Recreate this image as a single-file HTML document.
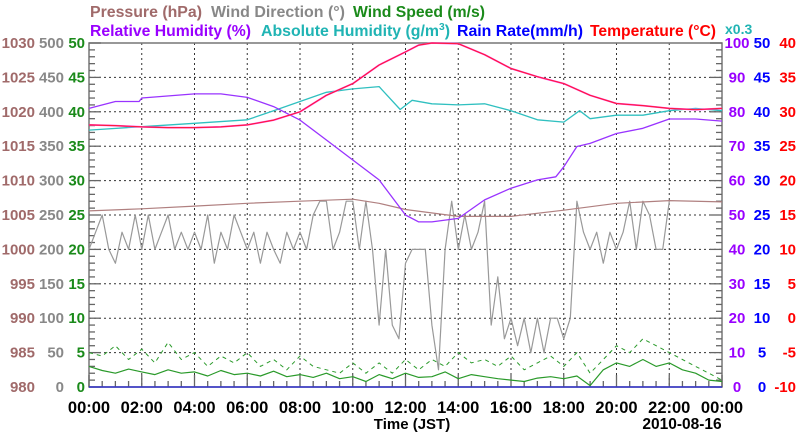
<!DOCTYPE html>
<html><head><meta charset="utf-8"><style>
html,body{margin:0;padding:0;background:#fff;}
svg{display:block;font-family:"Liberation Sans",sans-serif;font-weight:bold;}
</style></head><body>
<svg id="chart" width="800" height="434" viewBox="0 0 800 434" xmlns="http://www.w3.org/2000/svg">
<g font-size="15.5">
<text x="90" y="17" fill="#a06a6a" textLength="112" lengthAdjust="spacingAndGlyphs">Pressure (hPa)</text>
<text x="211" y="17" fill="#888" textLength="134" lengthAdjust="spacingAndGlyphs">Wind Direction (°)</text>
<text x="353" y="17" fill="#1a8a1a" textLength="132" lengthAdjust="spacingAndGlyphs">Wind Speed (m/s)</text>
<text x="90" y="36" fill="#9900ff" textLength="161" lengthAdjust="spacingAndGlyphs">Relative Humidity (%)</text>
<text x="261" y="36" fill="#20b4b4" textLength="189" lengthAdjust="spacingAndGlyphs">Absolute Humidity (g/m<tspan font-size="10" dy="-6">3</tspan><tspan dy="6">)</tspan></text>
<text x="457" y="36" fill="#0000ff" textLength="126" lengthAdjust="spacingAndGlyphs">Rain Rate(mm/h)</text>
<text x="590" y="36" fill="#ff0000" textLength="126" lengthAdjust="spacingAndGlyphs">Temperature (°C)</text>
<text x="725" y="34" fill="#20b4b4" font-size="14">x0.3</text>
</g>
<g id="grid"></g>
<g id="axes"></g>
<g id="series"></g>
<text x="412" y="429" font-size="15" text-anchor="middle">Time (JST)</text>
<text x="682" y="429" font-size="15.5" text-anchor="middle">2010-08-16</text>
</svg>
<script>
const hours=[0,1,2,3,4,5,6,7,8,9,10,11,12,12.5,13,14,15,16,17,18,19,20,21,22,23,24];
const temperature=[28.1,28.0,27.8,27.7,27.7,27.8,28.1,28.8,30.0,32.4,34.1,36.8,38.7,39.7,40,39.9,38.3,36.3,35.1,34.1,32.4,31.2,30.9,30.5,30.3,30.5];
const rhHours=[0,1,1.9,2,4,5,6,7,8,9,10,11,12,12.5,13,14,15,16,17,17.7,18,18.5,19,20,21,22,23,24];
const relHumidity=[81,83,83,84,85.2,85.2,84.2,81.5,77.6,71.8,66,60.2,50,48,48,49,54.4,57.8,60.2,61.1,64,69.9,70.8,73.7,75.2,77.9,77.9,77.3];
const ahHours=[0,2,4,6,7,8,9,10,11,11.8,12.25,13,14,15,16,17,18,18.6,19,20,21,22,23,24];
const absHumidity=[22.4,22.7,23.0,23.3,24.1,24.9,25.7,26.0,26.2,24.2,25.0,24.7,24.6,24.7,24.1,23.3,23.1,24.1,23.4,23.7,23.7,24.1,24.3,24.1];
const pHours=[0,2,4,6,8,10,11,12,14,16,18,20,22,24];
const pressure=[1005.6,1005.9,1006.3,1006.7,1007.0,1007.3,1006.7,1005.8,1004.8,1004.8,1005.7,1006.7,1007.1,1006.9];
const windDir=[200,225,250,200,180,225,200,250,200,250,200,225,250,200,225,200,225,200,250,180,225,200,250,225,200,225,180,225,200,180,225,200,225,200,250,270,270,200,225,270,270,200,270,200,90,200,90,70,180,200,200,200,90,25,200,270,200,250,200,225,270,90,160,70,100,60,100,50,100,50,100,100,70,100,270,225,200,225,180,225,200,225,270,200,270,250,200,200,270];
const windAvg=[3,2.4,2,2.6,2.2,1.8,2.5,2,2.2,1.6,2.4,1.8,2,1.6,2.3,1.5,1.8,1.4,2,1.2,1.5,0.8,1.8,1.2,2,1.4,1.5,2.2,1.2,1.8,1.5,1.2,1,0.8,1.3,1.5,1.2,1.6,0.2,2.5,3.5,3,4,3,3.5,2.5,2,1,0.8];
const windGust=[5,4.5,6,4,5.5,3.5,6.5,4,5,3,4.5,3.5,5,3,4,2.5,4.5,3,2.5,2,3.5,2,3.5,2,4,2.5,4,3,5,3.5,4,3,4.5,2.5,3.5,4.5,3,5,2,4,6,5,7,6,5,4,3,2,1];
const rainHours=[0,24];
const rainRate=[0,0];
const xTickLabels=["00:00","02:00","04:00","06:00","08:00","10:00","12:00","14:00","16:00","18:00","20:00","22:00","00:00"];
const pressureTicks=[980,985,990,995,1000,1005,1010,1015,1020,1025,1030];
const windDirTicks=[0,50,100,150,200,250,300,350,400,450,500];
const windSpeedTicks=[0,5,10,15,20,25,30,35,40,45,50];
const rhTicks=[0,10,20,30,40,50,60,70,80,90,100];
const rainTicks=[0,5,10,15,20,25,30,35,40,45,50];
const tempTicks=[-10,-5,0,5,10,15,20,25,30,35,40];

const L=89,R=722,T=43,B=387;
const X=h=>L+h/24*(R-L);
const lin=(min,max)=>v=>B-(v-min)/(max-min)*(B-T);
const yP=lin(980,1030),yD=lin(0,500),yW=lin(0,50),yRH=lin(0,100),yRain=lin(0,50),yT=lin(-10,40);
const NS="http://www.w3.org/2000/svg";
function mk(tag,attrs,parent){const e=document.createElementNS(NS,tag);for(const k in attrs)e.setAttribute(k,attrs[k]);parent.appendChild(e);return e;}
const grid=document.getElementById('grid'),axes=document.getElementById('axes'),series=document.getElementById('series');
for(let i=1;i<12;i++){const x=X(i*2);const g=mk('line',{x1:x,x2:x,y1:T,y2:B,stroke:'#333','stroke-width':1,'stroke-dasharray':'2,3'},grid);

}
for(let i=1;i<10;i++){const y=yW(i*5);const g=mk('line',{x1:L,x2:R,y1:y,y2:y,stroke:'#333','stroke-width':1,'stroke-dasharray':'2,3'},grid);

}
const fr=mk('rect',{x:L,y:T,width:R-L,height:B-T,fill:'none',stroke:'#777','stroke-width':1.5},axes);


for(let i=0;i<=50;i++){const y=yW(i);const len=i%5===0?12:6;
mk('line',{x1:L,x2:L+len,y1:y,y2:y,stroke:'#666','stroke-width':1.3},axes);
mk('line',{x1:R-len,x2:R,y1:y,y2:y,stroke:'#666','stroke-width':1.3},axes);}
for(let i=0;i<=48;i++){const x=X(i/2);const len=i%4===0?12:6;mk('line',{x1:x,x2:x,y1:B-len,y2:B,stroke:'#666','stroke-width':1.3},axes);}
function lab(txt,x,y,color,anchor,name){const t=mk('text',{x:x,y:y+5,fill:color,'font-size':15,'text-anchor':anchor},axes);t.textContent=txt;

}
pressureTicks.forEach(v=>lab(v,35,yP(v),'#a06a6a','end','pressure-tick-label'));
windDirTicks.forEach(v=>lab(v,64,yD(v),'#888','end','wind-direction-tick-label'));
windSpeedTicks.forEach(v=>lab(v,85,yW(v),'#1a8a1a','end','wind-speed-tick-label'));
rhTicks.forEach(v=>lab(v,737,yRH(v),'#9900ff','middle','humidity-tick-label'));
rainTicks.forEach(v=>lab(v,762,yRain(v),'#0000ff','middle','rain-tick-label'));
tempTicks.forEach(v=>lab(v,796,yT(v),'#ff0000','end','temperature-tick-label'));
xTickLabels.forEach((s,i)=>{const t=mk('text',{x:X(i*2),y:413,fill:'#000','font-size':16.5,'text-anchor':'middle'},axes);t.textContent=s;

});
function line(xs,ys,yf,color,w,dash){const d=ys.map((v,i)=>(i?'L':'M')+X(xs[i]).toFixed(1)+','+yf(v).toFixed(1)).join('');
const p=mk('path',{d:d,fill:'none',stroke:color,'stroke-width':w,'stroke-linejoin':'round'},series);if(dash)p.setAttribute('stroke-dasharray',dash);return p;}
const wdH=windDir.map((v,i)=>i*0.25);
const wsH=windAvg.map((v,i)=>i*0.5);
let p;
p=line(wsH,windGust,yW,'#2a9a2a',1,'4,4');


p=line(wsH,windAvg,yW,'#2a9a2a',1.2);


p=line(wdH,windDir,yD,'#999',1.2);


p=line(pHours,pressure,yP,'#b08080',1.2);


p=line(ahHours,absHumidity,v=>yRH(v/0.3),'#30c0c0',1.3);


p=line(rhHours,relHumidity,yRH,'#9933ff',1.3);


p=line(hours,temperature,yT,'#ff55ff',1.8);


p=line(hours,temperature,yT,'#ff1a40',1.2);


p=line(rainHours,rainRate,yRain,'#3333cc',1.5);


</script>
</body></html>
